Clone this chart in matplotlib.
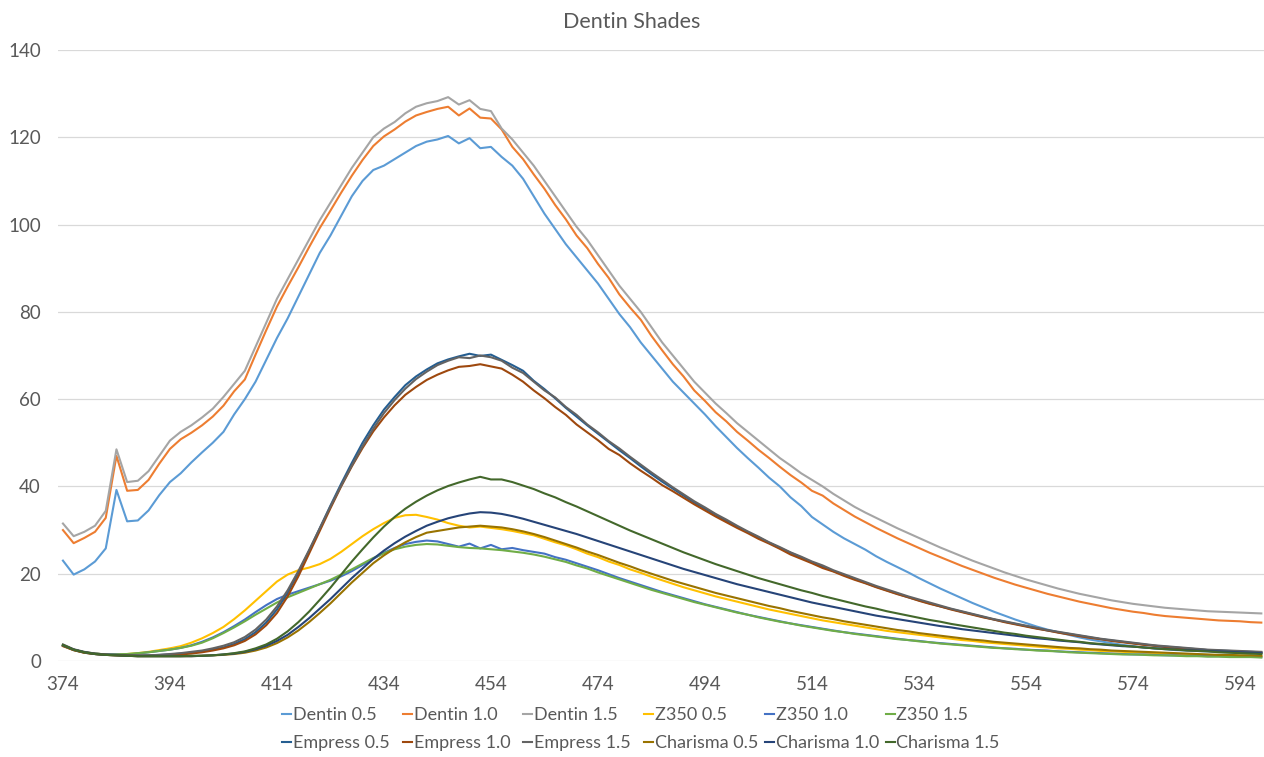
import numpy as np
import matplotlib
matplotlib.use("Agg")
import matplotlib.pyplot as plt
from matplotlib.lines import Line2D

plt.rcParams['font.family'] = ['Lato', 'DejaVu Sans']

# Wavelength grid (nm), 2 nm steps
wavelength = np.arange(374, 599, 2)

dentin_05 = [23.0, 19.8, 21.0, 22.8, 25.8, 39.2, 32.0, 32.2, 34.5, 38.0, 41.0, 43.0, 45.5, 47.8, 50.0, 52.5,
             56.5, 60.0, 64.0, 69.0, 74.0, 78.5, 83.5, 88.5, 93.5, 97.5, 102.0, 106.5, 110.0, 112.5, 113.5, 115.0,
             116.5, 118.0, 119.0, 119.5, 120.3, 118.6, 119.8, 117.5, 117.8, 115.5, 113.5, 110.5, 106.5, 102.5, 99.0, 95.5,
             92.5, 89.5, 86.5, 83.0, 79.5, 76.5, 73.0, 70.0, 67.0, 64.0, 61.5, 59.0, 56.5, 53.8, 51.3, 48.8,
             46.5, 44.3, 42.0, 40.0, 37.5, 35.5, 33.0, 31.3, 29.6, 28.1, 26.8, 25.5, 24.0, 22.7, 21.5, 20.3,
             19.0, 17.8, 16.6, 15.5, 14.4, 13.3, 12.3, 11.3, 10.4, 9.5, 8.7, 7.9, 7.2, 6.6, 6.0, 5.4,
             4.9, 4.5, 4.1, 3.7, 3.4, 3.1, 2.9, 2.7, 2.5, 2.4, 2.3, 2.2, 2.1, 2.0, 1.9, 1.9, 1.8]

dentin_10 = [30.0, 27.0, 28.2, 29.6, 32.8, 47.0, 39.0, 39.2, 41.5, 45.2, 48.6, 50.8, 52.3, 54.0, 56.0, 58.5,
             61.8, 64.5, 70.2, 75.8, 81.2, 85.8, 90.2, 94.8, 99.2, 103.2, 107.3, 111.2, 114.8, 118.0, 120.2, 121.8,
             123.6, 125.0, 125.8, 126.5, 127.0, 125.0, 126.6, 124.5, 124.3, 121.8, 117.8, 115.0, 111.5, 108.2, 104.5, 101.2,
             97.5, 94.6, 91.0, 87.8, 84.0, 81.0, 78.2, 74.5, 71.2, 68.0, 65.2, 62.0, 59.6, 57.0, 54.9, 52.5,
             50.5, 48.4, 46.5, 44.5, 42.6, 40.9, 39.0, 37.9, 36.1, 34.6, 33.1, 31.8, 30.5, 29.3, 28.1, 27.0,
             25.9, 24.8, 23.8, 22.8, 21.8, 20.9, 20.0, 19.1, 18.3, 17.5, 16.8, 16.1, 15.4, 14.8, 14.2, 13.6,
             13.1, 12.6, 12.1, 11.7, 11.3, 11.0, 10.6, 10.3, 10.1, 9.9, 9.7, 9.5, 9.3, 9.2, 9.1, 8.9, 8.8]

dentin_15 = [31.5, 28.6, 29.6, 31.0, 34.4, 48.5, 41.0, 41.3, 43.5, 47.0, 50.5, 52.5, 54.0, 55.8, 57.8, 60.5,
             63.5, 66.5, 72.0, 77.5, 83.0, 87.5, 92.0, 96.5, 101.0, 105.0, 109.0, 113.0, 116.5, 120.0, 122.0, 123.5,
             125.5, 127.0, 127.8, 128.3, 129.2, 127.5, 128.5, 126.5, 126.0, 122.0, 119.5, 116.5, 113.5, 110.0, 106.5, 103.0,
             99.5, 96.5, 93.0, 89.5, 86.0, 83.0, 80.0, 76.5, 73.0, 70.0, 67.0, 64.0, 61.5, 59.0, 56.8, 54.5,
             52.5, 50.5, 48.5, 46.5, 44.8, 43.0, 41.5, 40.0, 38.3, 36.8, 35.3, 34.0, 32.8, 31.6, 30.4, 29.3,
             28.2, 27.1, 26.0, 25.0, 24.0, 23.0, 22.1, 21.2, 20.3, 19.5, 18.7, 18.0, 17.3, 16.6, 16.0, 15.4,
             14.9, 14.4, 13.9, 13.5, 13.1, 12.8, 12.5, 12.2, 12.0, 11.8, 11.6, 11.4, 11.3, 11.2, 11.1, 11.0, 10.9]

z350_05 = [3.6, 2.6, 2.0, 1.7, 1.5, 1.5, 1.6, 1.8, 2.1, 2.5, 2.9, 3.4, 4.2, 5.2, 6.4, 7.8,
           9.6, 11.6, 13.8, 16.0, 18.2, 19.8, 20.8, 21.4, 22.2, 23.4, 25.0, 26.8, 28.6, 30.2, 31.6, 32.8,
           33.4, 33.5, 33.0, 32.4, 31.6, 31.0, 30.6, 30.8, 30.5, 30.2, 29.8, 29.3, 28.8, 28.0, 27.2, 26.5,
           25.6, 24.6, 23.8, 22.8, 22.0, 21.0, 20.2, 19.3, 18.5, 17.7, 16.9, 16.2, 15.5, 14.8, 14.2, 13.6,
           13.0, 12.4, 11.8, 11.3, 10.8, 10.3, 9.8, 9.3, 8.9, 8.5, 8.1, 7.7, 7.3, 6.9, 6.6, 6.3,
           6.0, 5.7, 5.4, 5.1, 4.8, 4.6, 4.3, 4.1, 3.9, 3.7, 3.5, 3.3, 3.1, 2.9, 2.8, 2.6,
           2.5, 2.3, 2.2, 2.1, 2.0, 1.9, 1.8, 1.7, 1.6, 1.5, 1.4, 1.4, 1.3, 1.3, 1.2, 1.2, 1.1]

z350_10 = [3.5, 2.5, 1.9, 1.6, 1.5, 1.5, 1.5, 1.7, 2.0, 2.3, 2.6, 3.0, 3.6, 4.4, 5.4, 6.6,
           8.0, 9.5, 11.2, 12.8, 14.2, 15.2, 16.0, 16.8, 17.6, 18.4, 19.4, 20.6, 22.0, 23.4, 24.8, 25.9,
           26.8, 27.3, 27.6, 27.4, 26.8, 26.2, 26.9, 25.8, 26.6, 25.6, 25.9, 25.4, 25.0, 24.6, 23.8, 23.2,
           22.4, 21.6, 20.8, 19.9, 19.0, 18.2, 17.4, 16.6, 15.8, 15.1, 14.4, 13.7, 13.0, 12.4, 11.8, 11.2,
           10.6, 10.1, 9.6, 9.1, 8.6, 8.2, 7.8, 7.4, 7.0, 6.6, 6.3, 6.0, 5.7, 5.4, 5.1, 4.8,
           4.6, 4.3, 4.1, 3.9, 3.7, 3.5, 3.3, 3.1, 2.9, 2.8, 2.6, 2.5, 2.4, 2.2, 2.1, 2.0,
           1.9, 1.8, 1.7, 1.6, 1.5, 1.5, 1.4, 1.3, 1.3, 1.2, 1.2, 1.1, 1.1, 1.0, 1.0, 1.0, 0.9]

z350_15 = [3.6, 2.6, 2.0, 1.7, 1.5, 1.5, 1.6, 1.8, 2.0, 2.3, 2.6, 3.0, 3.5, 4.2, 5.2, 6.4,
           7.7, 9.1, 10.6, 12.0, 13.4, 14.6, 15.6, 16.6, 17.6, 18.6, 19.8, 21.0, 22.3, 23.6, 24.7, 25.6,
           26.2, 26.6, 26.8, 26.7, 26.4, 26.1, 25.9, 25.8, 25.6, 25.4, 25.1, 24.8, 24.4, 23.9, 23.3, 22.7,
           21.9, 21.2, 20.3, 19.5, 18.7, 17.9, 17.1, 16.3, 15.6, 14.9, 14.2, 13.5, 12.9, 12.3, 11.7, 11.1,
           10.6, 10.0, 9.5, 9.0, 8.6, 8.1, 7.7, 7.3, 6.9, 6.6, 6.2, 5.9, 5.6, 5.3, 5.0, 4.8,
           4.5, 4.3, 4.0, 3.8, 3.6, 3.4, 3.2, 3.0, 2.9, 2.7, 2.6, 2.4, 2.3, 2.2, 2.0, 1.9,
           1.8, 1.7, 1.6, 1.5, 1.5, 1.4, 1.3, 1.3, 1.2, 1.1, 1.1, 1.0, 1.0, 0.9, 0.9, 0.9, 0.8]

empress_05 = [3.6, 2.6, 2.0, 1.7, 1.5, 1.4, 1.3, 1.2, 1.3, 1.4, 1.5, 1.7, 1.9, 2.2, 2.6, 3.1,
              3.9, 5.0, 6.6, 8.8, 11.8, 15.6, 20.2, 25.2, 30.4, 35.6, 40.6, 45.4, 50.0, 54.0, 57.6, 60.5,
              63.2, 65.2, 66.8, 68.2, 69.1, 69.8, 70.4, 69.9, 70.2, 69.0, 67.8, 66.5, 64.2, 62.3, 60.2, 58.0,
              56.0, 54.0, 52.1, 50.2, 48.3, 46.5, 44.6, 42.8, 41.1, 39.5, 37.9, 36.3, 34.9, 33.5, 32.1, 30.8,
              29.5, 28.3, 27.1, 25.9, 24.8, 23.7, 22.6, 21.6, 20.6, 19.7, 18.8, 17.9, 17.0, 16.2, 15.4, 14.6,
              13.9, 13.2, 12.5, 11.9, 11.3, 10.7, 10.1, 9.5, 9.0, 8.5, 8.0, 7.5, 7.0, 6.6, 6.2, 5.8,
              5.4, 5.0, 4.7, 4.4, 4.1, 3.8, 3.5, 3.3, 3.1, 2.9, 2.7, 2.5, 2.4, 2.3, 2.2, 2.1, 2.0]

empress_10 = [3.4, 2.5, 1.9, 1.6, 1.4, 1.3, 1.2, 1.2, 1.2, 1.3, 1.4, 1.5, 1.7, 2.0, 2.4, 2.9,
              3.6, 4.6, 6.1, 8.2, 11.0, 14.8, 19.4, 24.6, 29.8, 35.0, 40.0, 44.6, 48.8, 52.6, 55.8, 58.6,
              61.0, 62.8, 64.4, 65.6, 66.6, 67.4, 67.6, 68.0, 67.5, 67.0, 65.6, 64.0, 62.0, 60.2, 58.2, 56.4,
              54.2, 52.4, 50.6, 48.6, 47.2, 45.3, 43.6, 42.0, 40.3, 38.9, 37.4, 35.9, 34.5, 33.1, 31.8, 30.5,
              29.3, 28.0, 26.9, 25.7, 24.4, 23.4, 22.4, 21.3, 20.5, 19.5, 18.6, 17.8, 16.9, 16.1, 15.3, 14.6,
              13.8, 13.1, 12.5, 11.8, 11.2, 10.6, 10.0, 9.5, 8.9, 8.4, 7.9, 7.4, 7.0, 6.5, 6.1, 5.7,
              5.3, 5.0, 4.6, 4.3, 4.0, 3.7, 3.5, 3.2, 3.0, 2.8, 2.6, 2.5, 2.3, 2.2, 2.1, 2.0, 1.9]

empress_15 = [3.8, 2.7, 2.1, 1.7, 1.5, 1.4, 1.3, 1.3, 1.3, 1.4, 1.6, 1.8, 2.1, 2.4, 2.9, 3.5,
              4.3, 5.5, 7.2, 9.5, 12.5, 16.2, 20.6, 25.4, 30.4, 35.4, 40.2, 44.8, 49.2, 53.2, 56.8, 59.8,
              62.4, 64.6, 66.3, 67.8, 68.8, 69.6, 69.4, 70.0, 69.6, 68.8, 67.2, 66.0, 64.0, 62.0, 60.4, 58.2,
              56.4, 54.2, 52.4, 50.4, 48.7, 46.8, 45.0, 43.2, 41.5, 39.8, 38.2, 36.6, 35.2, 33.7, 32.4, 31.0,
              29.7, 28.5, 27.2, 26.1, 24.9, 23.9, 22.8, 21.9, 20.8, 19.9, 19.0, 18.1, 17.2, 16.4, 15.6, 14.8,
              14.1, 13.4, 12.7, 12.0, 11.4, 10.8, 10.2, 9.6, 9.1, 8.6, 8.1, 7.6, 7.1, 6.7, 6.3, 5.9,
              5.5, 5.1, 4.8, 4.5, 4.2, 3.9, 3.6, 3.4, 3.2, 3.0, 2.8, 2.6, 2.5, 2.4, 2.3, 2.2, 2.1]

charisma_05 = [3.5, 2.5, 1.9, 1.6, 1.4, 1.3, 1.2, 1.1, 1.1, 1.1, 1.1, 1.1, 1.1, 1.2, 1.3, 1.4,
               1.6, 1.9, 2.4, 3.1, 4.1, 5.4, 7.0, 8.9, 11.0, 13.2, 15.6, 18.0, 20.2, 22.4, 24.2, 25.8,
               27.2, 28.4, 29.4, 29.8, 30.2, 30.6, 30.8, 31.0, 30.8, 30.6, 30.2, 29.7, 29.1, 28.4, 27.6, 26.8,
               26.0, 25.1, 24.3, 23.4, 22.5, 21.7, 20.8, 20.0, 19.2, 18.4, 17.7, 17.0, 16.3, 15.6, 15.0, 14.4,
               13.8, 13.2, 12.6, 12.1, 11.5, 11.0, 10.5, 10.0, 9.6, 9.1, 8.7, 8.3, 7.9, 7.5, 7.1, 6.8,
               6.4, 6.1, 5.8, 5.5, 5.2, 4.9, 4.7, 4.4, 4.2, 4.0, 3.8, 3.6, 3.4, 3.2, 3.0, 2.9,
               2.7, 2.6, 2.4, 2.3, 2.2, 2.1, 2.0, 1.9, 1.8, 1.7, 1.6, 1.5, 1.4, 1.4, 1.3, 1.3, 1.2]

charisma_10 = [3.6, 2.6, 2.0, 1.6, 1.4, 1.3, 1.2, 1.1, 1.1, 1.1, 1.1, 1.1, 1.1, 1.2, 1.3, 1.5,
               1.7, 2.1, 2.7, 3.5, 4.6, 6.0, 7.8, 9.8, 12.0, 14.2, 16.6, 19.0, 21.2, 23.4, 25.3, 27.0,
               28.5, 29.8, 31.0, 31.9, 32.7, 33.3, 33.8, 34.1, 34.0, 33.7, 33.2, 32.6, 31.9, 31.2, 30.5, 29.8,
               29.1, 28.3, 27.5, 26.7, 25.9, 25.1, 24.3, 23.5, 22.7, 21.9, 21.1, 20.4, 19.7, 19.0, 18.3, 17.6,
               17.0, 16.4, 15.8, 15.2, 14.6, 14.0, 13.4, 12.9, 12.4, 11.9, 11.4, 10.9, 10.4, 10.0, 9.6, 9.2,
               8.8, 8.4, 8.0, 7.7, 7.3, 7.0, 6.7, 6.4, 6.1, 5.8, 5.5, 5.2, 5.0, 4.7, 4.5, 4.3,
               4.0, 3.8, 3.6, 3.4, 3.3, 3.1, 2.9, 2.8, 2.6, 2.5, 2.4, 2.3, 2.2, 2.1, 2.0, 1.9, 1.8]

charisma_15 = [3.7, 2.6, 2.0, 1.6, 1.4, 1.3, 1.2, 1.1, 1.1, 1.1, 1.1, 1.1, 1.2, 1.2, 1.3, 1.5,
               1.8, 2.2, 2.9, 3.8, 5.1, 6.8, 8.9, 11.3, 14.0, 16.8, 19.8, 22.8, 25.6, 28.3, 30.8, 33.0,
               34.9, 36.5, 37.9, 39.1, 40.1, 40.9, 41.6, 42.2, 41.6, 41.6, 41.0, 40.2, 39.4, 38.4, 37.5, 36.4,
               35.4, 34.3, 33.2, 32.1, 31.0, 29.9, 28.9, 27.9, 26.9, 25.9, 24.9, 24.0, 23.1, 22.2, 21.4, 20.6,
               19.8, 19.0, 18.3, 17.6, 16.9, 16.2, 15.6, 14.9, 14.3, 13.7, 13.1, 12.5, 12.0, 11.4, 10.9, 10.4,
               9.9, 9.4, 9.0, 8.5, 8.1, 7.7, 7.3, 6.9, 6.5, 6.2, 5.8, 5.5, 5.2, 4.9, 4.6, 4.4,
               4.1, 3.9, 3.7, 3.5, 3.3, 3.1, 2.9, 2.7, 2.6, 2.4, 2.3, 2.2, 2.0, 1.9, 1.8, 1.7, 1.6]

series_names = ["Dentin 0.5", "Dentin 1.0", "Dentin 1.5",
                "Z350 0.5", "Z350 1.0", "Z350 1.5",
                "Empress 0.5", "Empress 1.0", "Empress 1.5",
                "Charisma 0.5", "Charisma 1.0", "Charisma 1.5"]
series_values = [dentin_05, dentin_10, dentin_15,
                 z350_05, z350_10, z350_15,
                 empress_05, empress_10, empress_15,
                 charisma_05, charisma_10, charisma_15]
series_colors = ["#5B9BD5", "#ED7D31", "#A5A5A5",
                 "#FFC000", "#4472C4", "#70AD47",
                 "#255E91", "#9E480E", "#636363",
                 "#997300", "#264478", "#43682B"]

x_ticks = list(range(374, 595, 20))
y_ticks = list(range(0, 141, 20))

TEXT = "#595959"
GRID = "#D9D9D9"
W, H = 1264, 757

fig = plt.figure(figsize=(W / 100, H / 100), dpi=100)
ax = fig.add_axes([57.6 / W, (H - 661) / H, 1 - 57.6 / W, (661 - 50) / H])

for name, vals, col in zip(series_names, series_values, series_colors):
    ax.plot(wavelength, vals, color=col, lw=1.5, label=name, solid_joinstyle="round")

ax.set_xlim(373, 598.5)
ax.set_ylim(0, 140)
ax.set_xticks(x_ticks)
ax.set_yticks(y_ticks)
ax.tick_params(axis="both", length=0, labelsize=13.5, labelcolor=TEXT)
ax.tick_params(axis="x", pad=11)
ax.tick_params(axis="y", pad=12)
ax.grid(axis="y", color=GRID, lw=0.9)
ax.set_axisbelow(True)
for s in ax.spines.values():
    s.set_visible(False)

fig.text(632 / W, 1 - 22 / H, "Dentin Shades", ha="center", va="center",
         fontsize=15.5, color=TEXT)

# Legend laid out as a 6-column grid below the plot
col_w = 120.7
for i, (name, col) in enumerate(zip(series_names, series_colors)):
    r, c = divmod(i, 6)
    x0 = 282 + c * col_w
    y0 = 715 + r * 28
    fig.add_artist(Line2D([x0 / W, (x0 + 9) / W], [1 - (y0 - 1) / H, 1 - (y0 - 1) / H],
                          color=col, lw=1.5, transform=fig.transFigure))
    fig.text((x0 + 11) / W, 1 - y0 / H, name, ha="left", va="center",
             fontsize=13, color=TEXT)

fig.savefig("out.png", dpi=100)
